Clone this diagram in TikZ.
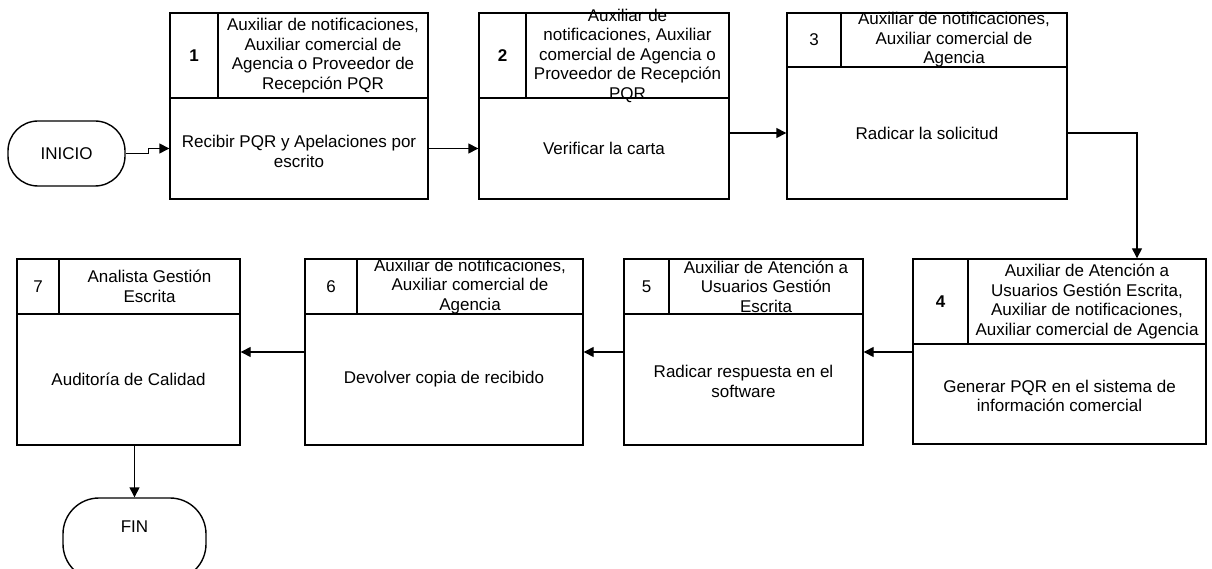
\documentclass[tikz,border=0pt]{standalone}
\usepackage{fontspec}
\setmainfont{Liberation Sans}
\usetikzlibrary{fit,arrows.meta,calc}
\tikzset{
  cellbox/.style={draw, inner sep=0pt, line width=1.4pt},
  txt/.style={align=center, font=\fontsize{17}{19.5}\selectfont, inner sep=0pt},
  numtxt/.style={font=\fontsize{17}{19.5}\selectfont, inner sep=0pt},
  term/.style={draw, line width=1.4pt, inner sep=0pt},
  arr/.style={line width=1.4pt, -{Triangle[length=10pt,width=10pt]}},
}
\newcommand{\mkcell}[5]{\node[cellbox, fit={(#2,#3) (#4,#5)}] (#1) {};}
\begin{document}
\begin{tikzpicture}[x=1pt,y=-1pt]
\clip (0,0) rectangle (1212,569);
\fill[white] (0,0) rectangle (1212,569);

% Terminals
\node[term, rounded corners=30pt, fit={(8,121) (125,186)}] (ini) {};
\node[txt] (init) at (ini.center) {INICIO};
\node[term, rounded corners=36pt, fit={(63,498) (206,580)}] (fin) {};
\node[txt] (fint) at ([yshift=-29pt]fin.north) {FIN};

% Box 1
\mkcell{n1}{170}{13}{218}{98}
\mkcell{r1}{218}{13}{428}{98}
\mkcell{m1}{170}{98}{428}{199}
\node[numtxt, font=\fontsize{17}{19.5}\selectfont\bfseries] (n1t) at (n1.center) {1};
\node[txt] (r1t) at (r1.center) {Auxiliar de notificaciones,\\Auxiliar comercial de\\Agencia o Proveedor de\\Recepción PQR};
\node[txt] (m1t) at ([yshift=-3pt]m1.center) {Recibir PQR y Apelaciones por\\escrito};

% Box 2
\mkcell{n2}{479}{13}{526}{98}
\mkcell{r2}{526}{13}{729}{98}
\mkcell{m2}{479}{98}{729}{199}
\node[numtxt, font=\fontsize{17}{19.5}\selectfont\bfseries] (n2t) at (n2.center) {2};
\node[txt] (r2t) at (r2.center) {Auxiliar de\\notificaciones, Auxiliar\\comercial de Agencia o\\Proveedor de Recepción\\PQR};
\node[txt] (m2t) at (m2.center) {Verificar la carta};

% Box 3
\mkcell{n3}{787}{13}{841}{67}
\mkcell{r3}{841}{13}{1067}{67}
\mkcell{m3}{787}{67}{1067}{199}
\node[numtxt] (n3t) at (n3.center) {3};
\node[txt] (r3t) at (r3.center) {Auxiliar de notificaciones,\\Auxiliar comercial de\\Agencia};
\node[txt] (m3t) at (m3.center) {Radicar la solicitud};

% Box 4
\mkcell{n4}{913}{259}{968}{344}
\mkcell{r4}{968}{259}{1206}{344}
\mkcell{m4}{913}{344}{1206}{444}
\node[numtxt, font=\fontsize{17}{19.5}\selectfont\bfseries] (n4t) at (n4.center) {4};
\node[txt] (r4t) at (r4.center) {Auxiliar de Atención a\\Usuarios Gestión Escrita,\\Auxiliar de notificaciones,\\Auxiliar comercial de Agencia};
\node[txt] (m4t) at ([yshift=-2pt]m4.center) {Generar PQR en el sistema de\\información comercial};

% Box 5
\mkcell{n5}{624}{259}{669}{314}
\mkcell{r5}{669}{259}{863}{314}
\mkcell{m5}{624}{314}{863}{445}
\node[numtxt] (n5t) at (n5.center) {5};
\node[txt] (r5t) at (r5.center) {Auxiliar de Atención a\\Usuarios Gestión\\Escrita};
\node[txt] (m5t) at ([yshift=-2pt]m5.center) {Radicar respuesta en el\\software};

% Box 6
\mkcell{n6}{305}{259}{357}{314}
\mkcell{r6}{357}{259}{583}{314}
\mkcell{m6}{305}{314}{583}{445}
\node[numtxt] (n6t) at (n6.center) {6};
\node[txt] (r6t) at (r6.center) {Auxiliar de notificaciones,\\Auxiliar comercial de\\Agencia};
\node[txt] (m6t) at (m6.center) {Devolver copia de recibido};

% Box 7
\mkcell{n7}{17}{259}{59}{314}
\mkcell{r7}{59}{259}{240}{314}
\mkcell{m7}{17}{314}{240}{445}
\node[numtxt] (n7t) at (n7.center) {7};
\node[txt] (r7t) at (r7.center) {Analista Gestión\\Escrita};
\node[txt] (m7t) at (m7.center) {Auditoría de Calidad};

% Connectors
\draw[arr] (ini.east) -- ++(23,0) |- (m1.west);
\draw[arr] (m1.east) -- (m2.west);
\draw[arr] (m2.east |- m3.west) -- (m3.west);
\draw[arr] (m3.east) -| ([xshift=50pt]r4.north);
\draw[arr] ([yshift=42pt]m4.west) -- ([yshift=42pt]m4.west -| m5.east);
\draw[arr] ([yshift=27.5pt]m5.west) -- ([yshift=27.5pt]m5.west -| m6.east);
\draw[arr] ([yshift=27.5pt]m6.west) -- ([yshift=27.5pt]m6.west -| m7.east);
\draw[arr] (m7.south -| fin.north) -- (fin.north);
\end{tikzpicture}
\end{document}
